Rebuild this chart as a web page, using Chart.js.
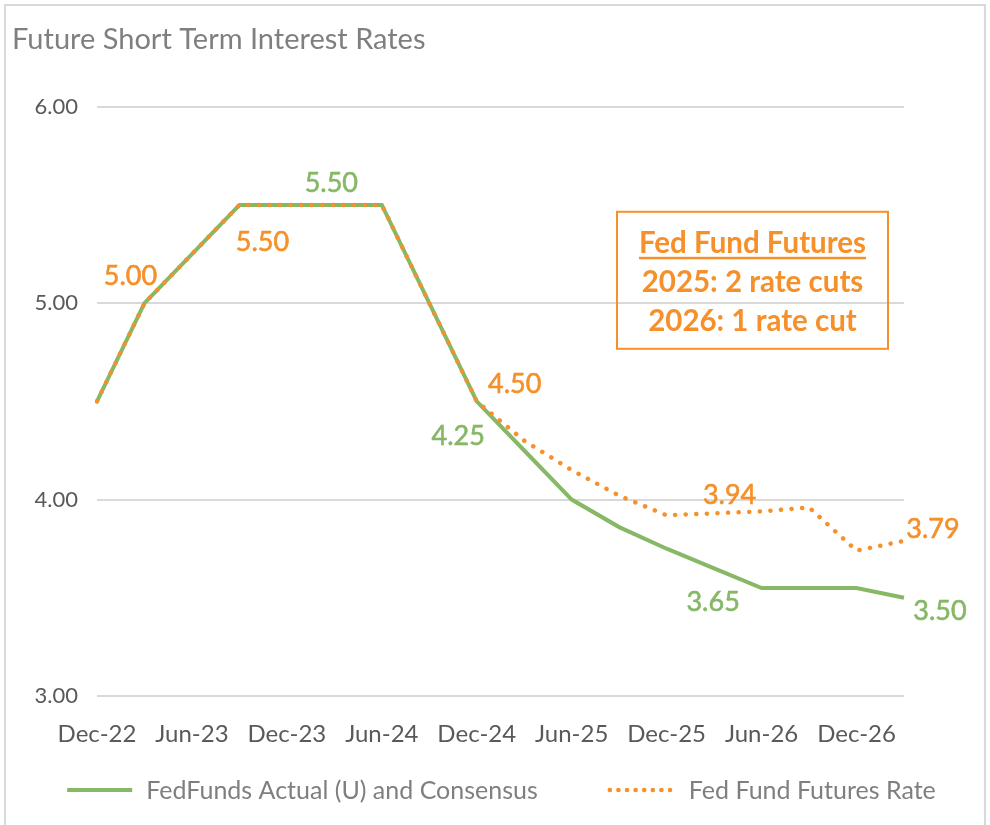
<!DOCTYPE html>
<html>
<head>
<meta charset="utf-8">
<script src="https://cdn.jsdelivr.net/npm/chart.js@4.4.1/dist/chart.umd.min.js"></script>
<style>
  body { margin: 0; background: #fff; }
  #wrap { position: relative; width: 990px; height: 825px; }
  #frame { position: absolute; left: 4px; top: 4px; width: 978px; height: 830px; border: 2px solid #d9d9d9; pointer-events: none; }
</style>
</head>
<body>
<div id="wrap">
  <canvas id="rateChart" width="990" height="825"></canvas>
  <div id="frame"></div>
</div>
<script>
// kwartaly od Dec-22 do Mar-27
const quarters = ['Dec-22', 'Mar-23', 'Jun-23', 'Sep-23', 'Dec-23', 'Mar-24', 'Jun-24', 'Sep-24', 'Dec-24',
    'Mar-25', 'Jun-25', 'Sep-25', 'Dec-25', 'Mar-26', 'Jun-26', 'Sep-26', 'Dec-26', 'Mar-27'];
const fedFundsConsensus = [4.50, 5.00, 5.25, 5.50, 5.50, 5.50, 5.50, 5.00, 4.50, 4.25, 4.00, 3.86, 3.75, 3.65, 3.55, 3.55, 3.55, 3.50];
const fedFundFutures = [4.50, 5.00, 5.25, 5.50, 5.50, 5.50, 5.50, 5.00, 4.50, 4.30, 4.15, 4.02, 3.92, 3.93, 3.94, 3.96, 3.74, 3.79];
const yTicks = [3, 4, 5, 6];
const seriesNames = ['FedFunds Actual (U) and Consensus', 'Fed Fund Futures Rate'];
const boxLines = ['Fed Fund Futures', '2025: 2 rate cuts', '2026: 1 rate cut'];

const GREEN = '#86b866';
const ORANGE = '#f5902a';
const FONT = 'Lato, "Open Sans", sans-serif';

// etykiety wartosci: [dataset, indeks, dx, dy]
const valueLabels = [
    [1, 1, -14, -27], [1, 3, 23, 37], [0, 5, -3, -22],
    [1, 8, 38, -17], [0, 9, -66, -14], [1, 14, -32, -16],
    [0, 13, -1, 34], [1, 17, 29, -12], [0, 17, 36, 13]
];

const extras = {
    id: 'extras',
    afterDatasetsDraw(chart) {
        const ctx = chart.ctx;
        const ca = chart.chartArea;
        ctx.save();

        // wartosci przy punktach
        ctx.font = '27px ' + FONT;
        ctx.textAlign = 'center';
        ctx.textBaseline = 'middle';
        ctx.lineWidth = 0.6;
        valueLabels.forEach(([ds, i, dx, dy]) => {
            const pt = chart.getDatasetMeta(ds).data[i];
            const col = chart.data.datasets[ds].borderColor;
            const txt = chart.data.datasets[ds].data[i].toFixed(2);
            ctx.fillStyle = col;
            ctx.strokeStyle = col;
            ctx.fillText(txt, pt.x + dx, pt.y + dy);
            ctx.strokeText(txt, pt.x + dx, pt.y + dy);
        });

        // ramka z komentarzem
        const bx = ca.right - 287, by = ca.top + 105, bw = 271, bh = 137;
        ctx.strokeStyle = ORANGE;
        ctx.lineWidth = 2;
        ctx.strokeRect(bx, by, bw, bh);
        ctx.fillStyle = ORANGE;
        ctx.font = 'bold 29.5px ' + FONT;
        ctx.textBaseline = 'alphabetic';
        const cx = bx + bw / 2;
        const baselines = [by + 41, by + 80, by + 119];
        boxLines.forEach((t, k) => ctx.fillText(t, cx, baselines[k]));
        const tw = ctx.measureText(boxLines[0]).width;
        ctx.fillRect(cx - tw / 2, baselines[0] + 4, tw, 2.5);

        // legenda
        ctx.font = '25px ' + FONT;
        ctx.textAlign = 'left';
        ctx.textBaseline = 'middle';
        const sample = 67, gap = 14, between = 70;
        const widths = seriesNames.map(n => sample + gap + ctx.measureText(n).width);
        let x = (ca.left + ca.right) / 2 - (widths[0] + widths[1] + between) / 2;
        const ly = 790;
        chart.data.datasets.forEach((d, k) => {
            ctx.beginPath();
            ctx.strokeStyle = d.borderColor;
            ctx.lineWidth = d.borderWidth;
            ctx.lineCap = d.borderCapStyle || 'butt';
            ctx.setLineDash(k === 1 ? [0.1, 8.5] : []);
            ctx.moveTo(x + 2, ly);
            ctx.lineTo(x + sample, ly);
            ctx.stroke();
            ctx.setLineDash([]);
            ctx.fillStyle = '#7f7f7f';
            ctx.fillText(d.label, x + sample + gap, ly + 1);
            x += widths[k] + between;
        });
        ctx.restore();
    }
};

const ctx = document.getElementById('rateChart').getContext('2d');
new Chart(ctx, {
    type: 'line',
    data: {
        labels: quarters,
        datasets: [{
            label: seriesNames[0],
            data: fedFundsConsensus,
            borderColor: GREEN,
            borderWidth: 4,
            order: 2
        }, {
            label: seriesNames[1],
            data: fedFundFutures,
            borderColor: ORANGE,
            borderWidth: 4.5,
            borderDash: [0.1, 10.5],
            borderCapStyle: 'round',
            order: 1
        }]
    },
    options: {
        responsive: false,
        animation: false,
        layout: { padding: { left: 12, right: 86, top: 0, bottom: 69 } },
        elements: { point: { radius: 0 }, line: { tension: 0 } },
        plugins: {
            legend: { display: false },
            tooltip: { enabled: false },
            title: {
                display: true,
                text: 'Future Short Term Interest Rates',
                align: 'start',
                color: '#7f7f7f',
                font: { family: FONT, size: 29, weight: 'normal' },
                padding: { top: 22, bottom: 50 }
            }
        },
        scales: {
            x: {
                grid: { display: false, drawTicks: false },
                border: { display: false },
                ticks: {
                    autoSkip: false,
                    maxRotation: 0,
                    padding: 24,
                    color: '#595959',
                    font: { family: FONT, size: 24 },
                    callback: (v, i) => (i % 2 === 0 ? quarters[i] : '')
                },
                afterFit: s => { s.height = 60; }
            },
            y: {
                min: yTicks[0],
                max: yTicks[yTicks.length - 1],
                afterBuildTicks: s => { s.ticks = yTicks.map(v => ({ value: v })); },
                grid: { color: '#d9d9d9', lineWidth: 2, drawTicks: false },
                border: { display: false },
                ticks: {
                    padding: 19,
                    color: '#595959',
                    font: { family: FONT, size: 22 },
                    callback: v => v.toFixed(2)
                },
                afterFit: s => { s.width = 85; }
            }
        }
    },
    plugins: [extras]
});
</script>
</body>
</html>
